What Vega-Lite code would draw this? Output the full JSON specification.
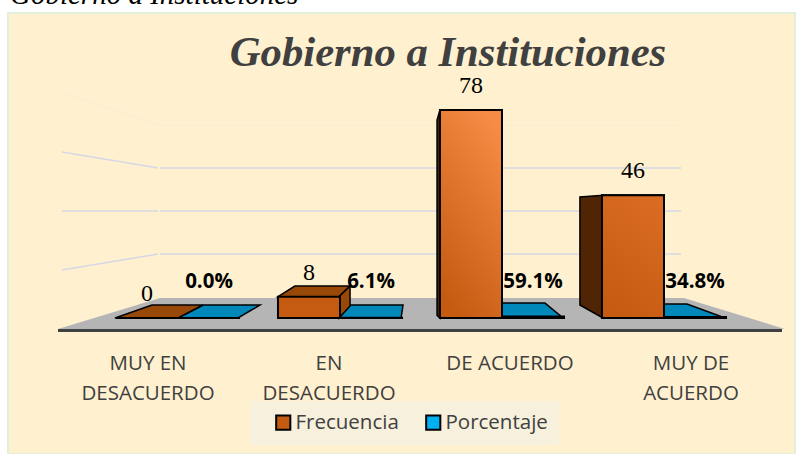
{
"$schema":"https://vega.github.io/schema/vega-lite/v6.json",
"width":787,"height":441,
"autosize":"none",
"padding":{"left":8,"top":13,"right":6,"bottom":0},
"background":"white",
"config":{"view":{"fill":"#FFF1CF","stroke":"#E2EFD9","strokeWidth":2}},
"title":{"text":"Gobierno a Instituciones","anchor":"start","frame":"group","orient":"top","offset":-26,"dx":2,"baseline":"bottom","font":"Liberation Serif","fontStyle":"italic","fontWeight":"normal","fontSize":29,"color":"#000000"},
"datasets":{
"valores":[
{"categoria":"MUY EN DESACUERDO","serie":"Frecuencia","valor":0},
{"categoria":"EN DESACUERDO","serie":"Frecuencia","valor":8},
{"categoria":"DE ACUERDO","serie":"Frecuencia","valor":78},
{"categoria":"MUY DE ACUERDO","serie":"Frecuencia","valor":46},
{"categoria":"MUY EN DESACUERDO","serie":"Porcentaje","valor":0},
{"categoria":"EN DESACUERDO","serie":"Porcentaje","valor":0.061},
{"categoria":"DE ACUERDO","serie":"Porcentaje","valor":0.591},
{"categoria":"MUY DE ACUERDO","serie":"Porcentaje","valor":0.348}
],
"rejilla":[{"nivel":24},{"nivel":40.1},{"nivel":56.25}],
"muro":[
{"g":"a","p":0.284,"v":62.25},{"g":"a","p":0.877,"v":56.25},
{"g":"b","p":0.284,"v":40.1},{"g":"b","p":0.877,"v":40.1},
{"g":"c","p":0.284,"v":18},{"g":"c","p":0.877,"v":24}
],
"muro_tenue":[{"p":0.284,"v":84.75},{"p":0.877,"v":72.4},{"p":4.11,"v":72.4}],
"suelo":[{"v":7.5,"a":0.889,"b":4.123},{"v":-4.1,"a":0.259,"b":4.747}],
"tapas_azules":[
{"g":"1","v":0,"a":1.0,"b":1.37},{"g":"1","v":4.875,"a":1.154,"b":1.506},
{"g":"2","v":0,"a":1.994,"b":2.377},{"g":"2","v":4.875,"a":2.062,"b":2.389},
{"g":"3","v":0,"a":3.0,"b":3.377},{"g":"3","v":5.6,"a":3.0,"b":3.265},
{"g":"4","v":0,"a":4.0,"b":4.377},{"g":"4","v":5.25,"a":4.0,"b":4.142}
],
"tapas_cafes":[
{"g":"1","v":0,"a":0.611,"b":1.0},{"g":"1","v":4.875,"a":0.84,"b":1.154},
{"g":"2","v":8,"a":1.617,"b":1.994},{"g":"2","v":12,"a":1.722,"b":2.062}
],
"lado_claro":[{"g":"2","p":1.994,"lo":0,"hi":8},{"g":"2","p":2.062,"lo":4.5,"hi":12}],
"lados_oscuros":[
{"g":"3","p":2.599,"lo":1,"hi":74.25},{"g":"3","p":2.617,"lo":0,"hi":78},
{"g":"4","p":3.481,"lo":4.875,"hi":45.4},{"g":"4","p":3.623,"lo":0,"hi":46}
],
"titulo":[{"t":"Gobierno a Instituciones"}]
},
"resolve":{"scale":{"x":"independent","xOffset":"independent"},"axis":{"x":"independent"}},
"layer":[
{"data":{"name":"valores"},"mark":{"type":"bar","opacity":0},
 "encoding":{"x":{"field":"categoria","type":"nominal","sort":null,"scale":{"range":[49.5,773.5],"paddingInner":0,"paddingOuter":0},
   "axis":{"title":null,"orient":"bottom","offset":-124,"ticks":false,"domain":true,"domainColor":"#404040","domainWidth":3,"labelAngle":0,"labelColor":"#404040","labelFont":"Open Sans","labelFontSize":20.5,"labelPadding":33,"labelLineHeight":30,"labelBaseline":"middle","labelExpr":"datum.label=='DE ACUERDO'?datum.label:[slice(datum.label,0,lastindexof(datum.label,' ')),slice(datum.label,lastindexof(datum.label,' ')+1)]"}},
  "y":{"datum":0,"type":"quantitative","scale":{"domain":[-51,114.375],"nice":false,"zero":false},"axis":null}}},
{"data":{"name":"rejilla"},"mark":{"type":"rule","color":"#D5D9E6","strokeWidth":1.5,"xOffset":-18,"x2Offset":17},
 "encoding":{"x":{"datum":"MUY EN DESACUERDO","type":"nominal","scale":{"domain":["MUY EN DESACUERDO","EN DESACUERDO","DE ACUERDO","MUY DE ACUERDO"],"range":[89,737],"paddingInner":0,"paddingOuter":0},"axis":null},
  "x2":{"datum":"MUY DE ACUERDO"},
  "y":{"field":"nivel","type":"quantitative","scale":{"domain":[-51,114.375],"nice":false,"zero":false},"axis":null}}},
{"data":{"name":"muro"},"mark":{"type":"line","color":"#D5D9E6","strokeWidth":1.5},
 "encoding":{"x":{"field":"p","type":"quantitative","scale":{"domain":[0.5,4.5],"range":[89,737],"nice":false,"zero":false},"axis":null},
  "y":{"field":"v","type":"quantitative","scale":{"domain":[-51,114.375],"nice":false,"zero":false},"axis":null},"detail":{"field":"g"}}},
{"data":{"name":"muro_tenue"},"mark":{"type":"line","color":"#FBEDD5","strokeWidth":1.5},
 "encoding":{"x":{"field":"p","type":"quantitative","scale":{"domain":[0.5,4.5],"range":[89,737],"nice":false,"zero":false},"axis":null},
  "y":{"field":"v","type":"quantitative","scale":{"domain":[-51,114.375],"nice":false,"zero":false},"axis":null}}},
{"data":{"name":"suelo"},"mark":{"type":"area","orient":"horizontal","color":"#B5B5B5"},
 "encoding":{"y":{"field":"v","type":"quantitative","scale":{"domain":[-51,114.375],"nice":false,"zero":false},"axis":null},
  "x":{"field":"a","type":"quantitative","stack":null,"scale":{"domain":[0.5,4.5],"range":[89,737],"nice":false,"zero":false},"axis":null},"x2":{"field":"b"}}},
{"data":{"name":"tapas_azules"},"mark":{"type":"area","orient":"horizontal","fill":"#0088BB","stroke":"#000000","strokeWidth":1.5},
 "encoding":{"y":{"field":"v","type":"quantitative","scale":{"domain":[-51,114.375],"nice":false,"zero":false},"axis":null},
  "x":{"field":"a","type":"quantitative","stack":null,"scale":{"domain":[0.5,4.5],"range":[89,737],"nice":false,"zero":false},"axis":null},"x2":{"field":"b"},"detail":{"field":"g"}}},
{"data":{"name":"tapas_cafes"},"mark":{"type":"area","orient":"horizontal","fill":"#984807","stroke":"#000000","strokeWidth":1.5},
 "encoding":{"y":{"field":"v","type":"quantitative","scale":{"domain":[-51,114.375],"nice":false,"zero":false},"axis":null},
  "x":{"field":"a","type":"quantitative","stack":null,"scale":{"domain":[0.5,4.5],"range":[89,737],"nice":false,"zero":false},"axis":null},"x2":{"field":"b"},"detail":{"field":"g"}}},
{"data":{"name":"lado_claro"},"mark":{"type":"area","fill":"#984807","stroke":"#000000","strokeWidth":1.5},
 "encoding":{"x":{"field":"p","type":"quantitative","scale":{"domain":[0.5,4.5],"range":[89,737],"nice":false,"zero":false},"axis":null},
  "y":{"field":"lo","type":"quantitative","stack":null,"scale":{"domain":[-51,114.375],"nice":false,"zero":false},"axis":null},"y2":{"field":"hi"},"detail":{"field":"g"}}},
{"data":{"name":"lados_oscuros"},"mark":{"type":"area","fill":"#4F2506","stroke":"#000000","strokeWidth":1.5},
 "encoding":{"x":{"field":"p","type":"quantitative","scale":{"domain":[0.5,4.5],"range":[89,737],"nice":false,"zero":false},"axis":null},
  "y":{"field":"lo","type":"quantitative","stack":null,"scale":{"domain":[-51,114.375],"nice":false,"zero":false},"axis":null},"y2":{"field":"hi"},"detail":{"field":"g"}}},
{"data":{"name":"valores"},"mark":{"type":"bar","stroke":"#000000","strokeWidth":2},
 "encoding":{"x":{"field":"categoria","type":"nominal","sort":null,"scale":{"range":[89,737],"paddingInner":0,"paddingOuter":0},"axis":null},
  "xOffset":{"field":"serie","type":"nominal","scale":{"paddingOuter":0.306,"paddingInner":0}},
  "y":{"field":"valor","type":"quantitative","stack":null,"scale":{"domain":[-51,114.375],"nice":false,"zero":false},"axis":null},
  "color":{"field":"serie","type":"nominal","scale":{"domain":["Frecuencia","Porcentaje"],"range":["#C55A11","#00B0F0"]},
   "legend":{"title":null,"orient":"none","legendX":242,"legendY":388,"direction":"horizontal","fillColor":"#F7F0DC","padding":11,"symbolType":"square","symbolSize":200,"symbolOffset":12,"symbolStrokeColor":"#000000","symbolStrokeWidth":2,"labelFont":"Open Sans","labelFontSize":20.5,"labelColor":"#404040","columnPadding":12,"labelOffset":2}}}},
{"data":{"name":"valores"},"transform":[{"filter":"datum.serie=='Frecuencia' && datum.categoria=='DE ACUERDO'"}],
 "mark":{"type":"bar","stroke":"#000000","strokeWidth":2,"fill":{"gradient":"linear","x1":0.7,"y1":0,"x2":0.3,"y2":1,"stops":[{"offset":0,"color":"#F58B44"},{"offset":1,"color":"#C55A11"}]}},
 "encoding":{"x":{"field":"categoria","type":"nominal","scale":{"domain":["MUY EN DESACUERDO","EN DESACUERDO","DE ACUERDO","MUY DE ACUERDO"],"range":[89,737],"paddingInner":0,"paddingOuter":0},"axis":null},
  "xOffset":{"field":"serie","type":"nominal","scale":{"domain":["Frecuencia","Porcentaje"],"paddingOuter":0.306,"paddingInner":0}},
  "y":{"field":"valor","type":"quantitative","stack":null,"scale":{"domain":[-51,114.375],"nice":false,"zero":false},"axis":null}}},
{"data":{"name":"valores"},"transform":[{"filter":"datum.serie=='Frecuencia' && datum.categoria=='MUY DE ACUERDO'"}],
 "mark":{"type":"bar","stroke":"#000000","strokeWidth":2,"fill":{"gradient":"linear","x1":0.7,"y1":0,"x2":0.3,"y2":1,"stops":[{"offset":0,"color":"#D96C22"},{"offset":1,"color":"#C55A11"}]}},
 "encoding":{"x":{"field":"categoria","type":"nominal","scale":{"domain":["MUY EN DESACUERDO","EN DESACUERDO","DE ACUERDO","MUY DE ACUERDO"],"range":[89,737],"paddingInner":0,"paddingOuter":0},"axis":null},
  "xOffset":{"field":"serie","type":"nominal","scale":{"domain":["Frecuencia","Porcentaje"],"paddingOuter":0.306,"paddingInner":0}},
  "y":{"field":"valor","type":"quantitative","stack":null,"scale":{"domain":[-51,114.375],"nice":false,"zero":false},"axis":null}}},
{"data":{"name":"valores"},"transform":[{"filter":"datum.serie=='Frecuencia'"}],
 "mark":{"type":"text","font":"Liberation Serif","fontSize":24,"color":"#000000","baseline":"middle","dy":-24},
 "encoding":{"x":{"field":"categoria","type":"nominal","scale":{"domain":["MUY EN DESACUERDO","EN DESACUERDO","DE ACUERDO","MUY DE ACUERDO"],"range":[89,737],"paddingInner":0,"paddingOuter":0},"axis":null},
  "xOffset":{"field":"serie","type":"nominal","scale":{"domain":["Frecuencia","Porcentaje"],"paddingOuter":0.806}},
  "y":{"field":"valor","type":"quantitative","stack":null,"scale":{"domain":[-51,114.375],"nice":false,"zero":false},"axis":null},
  "text":{"field":"valor","type":"quantitative"}}},
{"data":{"name":"valores"},"transform":[{"filter":"datum.serie=='Porcentaje'"}],
 "mark":{"type":"text","font":"Open Sans","fontWeight":"bold","fontSize":20.5,"color":"#000000","baseline":"middle"},
 "encoding":{"x":{"field":"categoria","type":"nominal","scale":{"domain":["MUY EN DESACUERDO","EN DESACUERDO","DE ACUERDO","MUY DE ACUERDO"],"range":[89,737],"paddingInner":0,"paddingOuter":0},"axis":null},
  "xOffset":{"field":"serie","type":"nominal","scale":{"domain":["Frecuencia","Porcentaje"],"paddingOuter":0.806}},
  "y":{"datum":13.5,"type":"quantitative","scale":{"domain":[-51,114.375],"nice":false,"zero":false},"axis":null},
  "text":{"field":"valor","type":"quantitative","format":".1%"}}},
{"data":{"name":"titulo"},"mark":{"type":"text","font":"Liberation Serif","fontWeight":"bold","fontStyle":"italic","fontSize":42.7,"color":"#404040","baseline":"middle","xOffset":-54},
 "encoding":{"x":{"datum":"DE ACUERDO","type":"nominal","scale":{"domain":["MUY EN DESACUERDO","EN DESACUERDO","DE ACUERDO","MUY DE ACUERDO"],"range":[89,737],"paddingInner":0,"paddingOuter":0},"axis":null},
  "y":{"datum":99.4,"type":"quantitative","scale":{"domain":[-51,114.375],"nice":false,"zero":false},"axis":null},
  "text":{"field":"t"}}}
]
}
